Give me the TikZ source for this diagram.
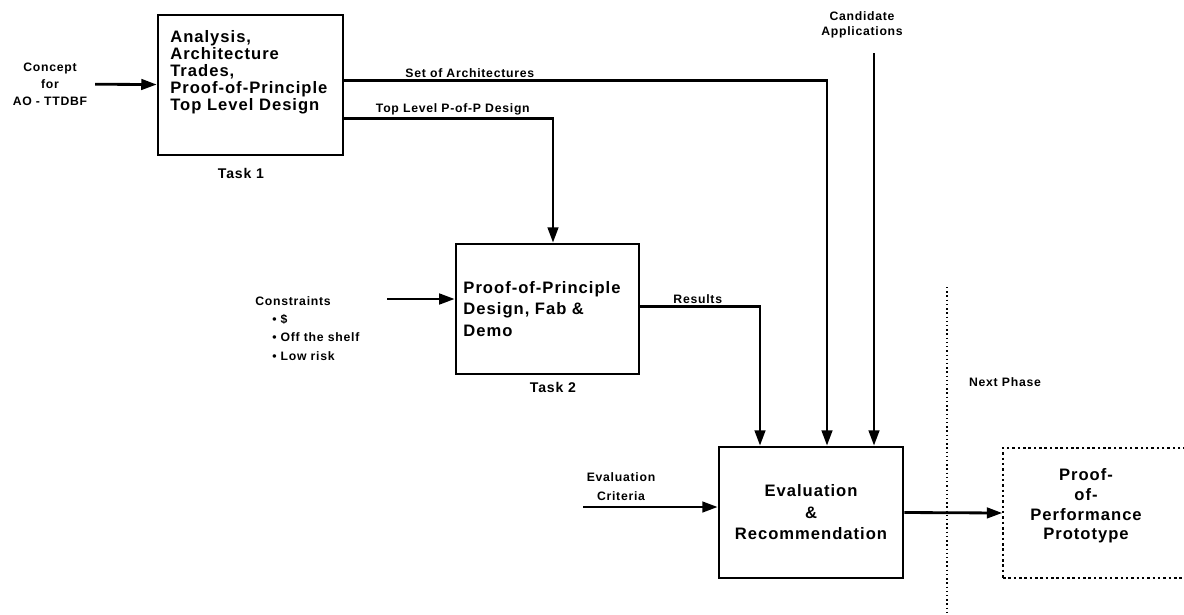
\documentclass[tikz,border=0pt]{standalone}
\usepackage{fontspec}
\setmainfont{Liberation Sans}[LetterSpace=6]
\usetikzlibrary{arrows.meta,calc,positioning}

\begin{document}
\begin{tikzpicture}[x=0.025cm, y=-0.025cm,
    box/.style={draw, line width=1.8pt, inner sep=0pt},
    txt/.style={font=\bfseries\fontsize{11.8}{12}\selectfont, inner sep=0pt},
    lbl/.style={font=\bfseries\fontsize{8.7}{12}\selectfont, inner sep=1.5pt},
    flow/.style={line width=2pt, -{Triangle[length=11pt,width=7.5pt]}}]
  \useasboundingbox (0,0) rectangle (1184,614);

  % Task 1
  \node[box, minimum width=4.625cm, minimum height=3.5cm] (task1) at (250.5,85) {};
  \node[txt, anchor=west, align=left] (task1txt) at (170,72) {Analysis,\\Architecture\\Trades,\\Proof-of-Principle\\Top Level Design};
  \node[lbl, font=\bfseries\fontsize{10}{12}\selectfont] (task1lbl) at (241,173) {Task 1};
  \node[lbl, align=center] (concept) at (50,84) {Concept\\for\\AO - TTDBF};

  % Task 2
  \node[box, minimum width=4.575cm, minimum height=3.25cm, text width=4.2cm, align=left,
        font=\bfseries\fontsize{11.8}{15.3}\selectfont] (task2) at (547.5,309) {Proof-of-Principle\\Design, Fab \&\\Demo\\[4pt]};
  \node[lbl, font=\bfseries\fontsize{10}{12}\selectfont] (task2lbl) at (553,387) {Task 2};
  \node[lbl, align=left, anchor=north west, font=\bfseries\fontsize{8.7}{13}\selectfont] (cons) at (253,294)
    {Constraints\\\hspace*{12pt}\textbullet\ \$\\\hspace*{12pt}\textbullet\ Off the shelf\\\hspace*{12pt}\textbullet\ Low risk};

  % Evaluation
  \node[box, minimum width=4.6cm, minimum height=3.275cm, align=center,
        font=\bfseries\fontsize{11.8}{15.3}\selectfont] (eval) at (811,512.5) {Evaluation\\\&\\Recommendation};
  \node[lbl, align=center, font=\bfseries\fontsize{8.7}{13.5}\selectfont] (crit) at (621,487) {Evaluation\\Criteria};
  \node[lbl, align=center, font=\bfseries\fontsize{8.7}{10.5}\selectfont] (cand) at (862,25) {Candidate\\Applications};

  % Next phase
  \draw[dotted, line width=1pt] (947,287) -- (947,614);
  \node[lbl] (nextph) at (1005,382) {Next Phase};
  \node[box, dotted, line width=1pt, minimum width=4.8cm, minimum height=3.25cm] (proto) at (1099,513) {};
  \node[txt, align=center, font=\bfseries\fontsize{11.8}{14}\selectfont] (prototxt) at (1086,506) {Proof-\\of-\\Performance\\Prototype};

  % Flows
  \coordinate (candin) at (874,53);
  \coordinate (consin) at (387,299);
  \coordinate (critin) at (583,507);
  \draw[flow, shorten <=4pt] (concept) -- (task1);
  \draw[flow] ($(task1.north east)+(0,67)$) -| node[lbl, above, pos=0.13] (setlbl) {Set of Architectures} ($(eval.north)+(16,0)$);
  \draw[flow] ($(task1.north east)+(0,105)$) -| node[lbl, above, pos=0.26] (toplbl) {Top Level P-of-P Design} ($(task2.north)+(5.5,0)$);
  \draw[flow] ($(task2.north east)+(0,64)$) -| node[lbl, above, pos=0.24] (reslbl) {Results} ($(eval.north)+(-51,0)$);
  \draw[flow] (candin) -- (candin |- eval.north);
  \draw[flow] (consin) -- (consin -| task2.west);
  \draw[flow] (critin) -- (critin -| eval.west);
  \draw[flow] (eval.east) -- (proto.west);
\end{tikzpicture}
\end{document}
